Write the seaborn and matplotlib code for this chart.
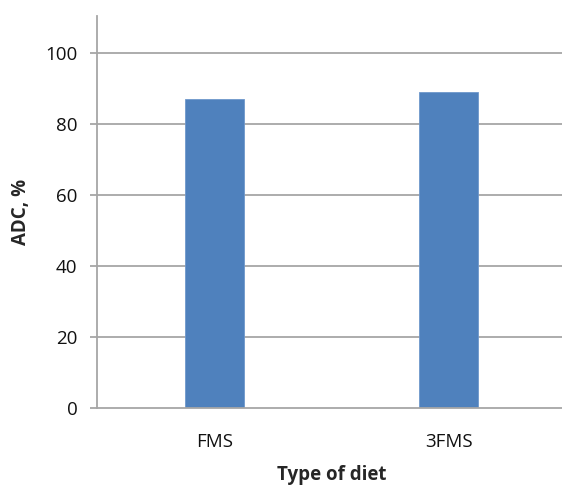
import matplotlib
matplotlib.use("Agg")
import matplotlib.pyplot as plt
import seaborn as sns
import pandas as pd

# Apparent digestibility by diet
diets = ["FMS", "3FMS"]
adc = [87, 89]
y_ticks = [0, 20, 40, 60, 80, 100]

sns.set_style("white")
plt.rcParams["font.family"] = ["Open Sans", "DejaVu Sans"]

df = pd.DataFrame({"diet": diets, "adc": adc})

fig = plt.figure(figsize=(5.62, 4.88), dpi=100)
ax = fig.add_axes([97 / 562, (488 - 408) / 488, 469 / 562, (408 - 16) / 488])

sns.barplot(data=df, x="diet", y="adc", color="#4F81BD", saturation=1,
            width=0.25, ax=ax, zorder=3, edgecolor="#6F98CC", linewidth=0.6)

grid_c = "#A6A6A6"
ax.set_ylim(0, 110.4)
ax.set_xlim(-0.5, 1.5)
ax.set_yticks(y_ticks)
for t in y_ticks[1:]:
    ax.axhline(t, color=grid_c, lw=1.3, zorder=1)

for s in ["top", "right"]:
    ax.spines[s].set_visible(False)
for s in ["left", "bottom"]:
    ax.spines[s].set_color(grid_c)
    ax.spines[s].set_linewidth(1.3)
ax.spines["bottom"].set_zorder(4)

fs = 13.5
ax.tick_params(axis="y", direction="out", length=5, width=1.3, color=grid_c,
               labelsize=fs, labelcolor="#111111", pad=9, left=True)
ax.tick_params(axis="x", length=0, labelsize=fs, labelcolor="#111111", pad=18)

ax.set_xlabel("Type of diet", fontsize=fs, fontweight="bold", labelpad=10)
ax.set_ylabel("ADC, %", fontsize=fs, fontweight="bold", labelpad=10)

fig.savefig("out.png", dpi=100)
